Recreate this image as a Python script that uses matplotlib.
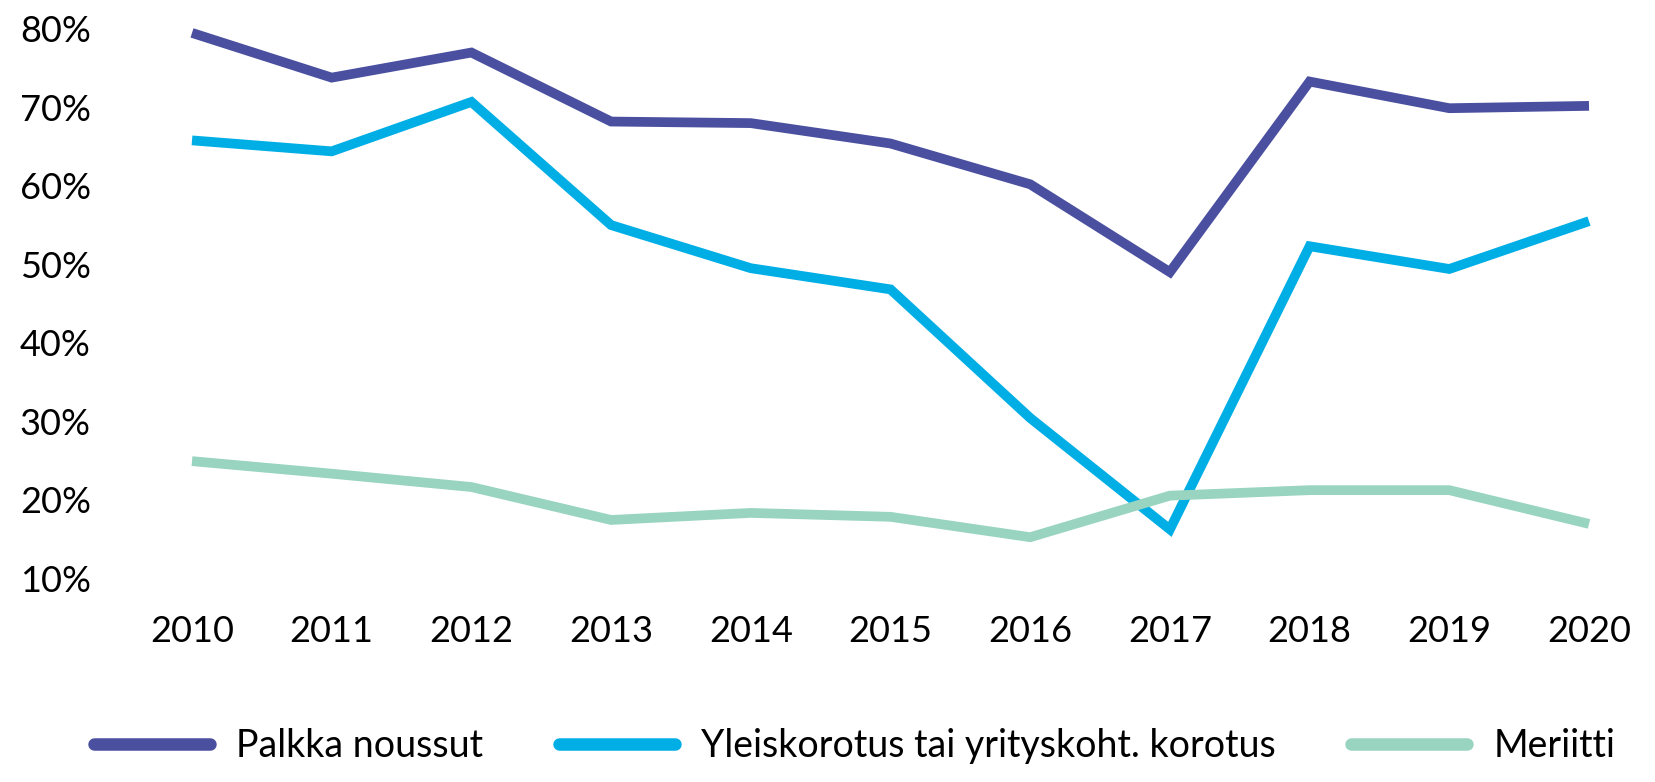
import matplotlib
matplotlib.use('Agg')
import matplotlib.pyplot as plt
from matplotlib.ticker import FuncFormatter

plt.rcParams['font.family'] = ['Lato', 'DejaVu Sans']

years = [2010, 2011, 2012, 2013, 2014, 2015, 2016, 2017, 2018, 2019, 2020]
palkka = [79.5, 73.8, 77.0, 68.2, 68.0, 65.4, 60.2, 49.0, 73.3, 69.9, 70.2]
yleis = [65.8, 64.4, 70.7, 55.0, 49.5, 46.8, 30.4, 16.2, 52.3, 49.4, 55.5]
meriitti = [24.9, 23.3, 21.6, 17.4, 18.3, 17.8, 15.2, 20.5, 21.2, 21.2, 16.9]
labels = ['Palkka noussut', 'Yleiskorotus tai yrityskoht. korotus', 'Meriitti']
colors = ['#4a4f9f', '#00aee6', '#98d4bf']

fig = plt.figure(figsize=(16.55, 7.82), dpi=100)
ax = fig.add_axes([192/1655, 1 - 578/782, (1589 - 192)/1655, (578 - 29)/782])

for vals, lab, col in zip([palkka, yleis, meriitti], labels, colors):
    ax.plot(years, vals, color=col, lw=7, label=lab, solid_capstyle='butt',
            solid_joinstyle='miter', clip_on=False)

ax.set_xlim(2010, 2020)
ax.set_ylim(10, 80)
ax.set_xticks(years)
ax.set_yticks(range(10, 81, 10))
ax.yaxis.set_major_formatter(FuncFormatter(lambda v, p: f'{int(v)}%'))
ax.tick_params(length=0, labelsize=26)
ax.tick_params(axis='y', pad=124)
ax.tick_params(axis='x', pad=27)
for t in ax.get_yticklabels():
    t.set_horizontalalignment('left')
for s in ax.spines.values():
    s.set_visible(False)

leg = fig.legend(loc='lower left', bbox_to_anchor=(79/1655, 0.004), ncol=3,
                 frameon=False, fontsize=27, handlelength=3.1, handletextpad=0.7,
                 columnspacing=2.0, borderaxespad=0)
for h in leg.get_lines():
    h.set_linewidth(9)
    h.set_solid_capstyle('round')

fig.savefig('out.png', dpi=100)
